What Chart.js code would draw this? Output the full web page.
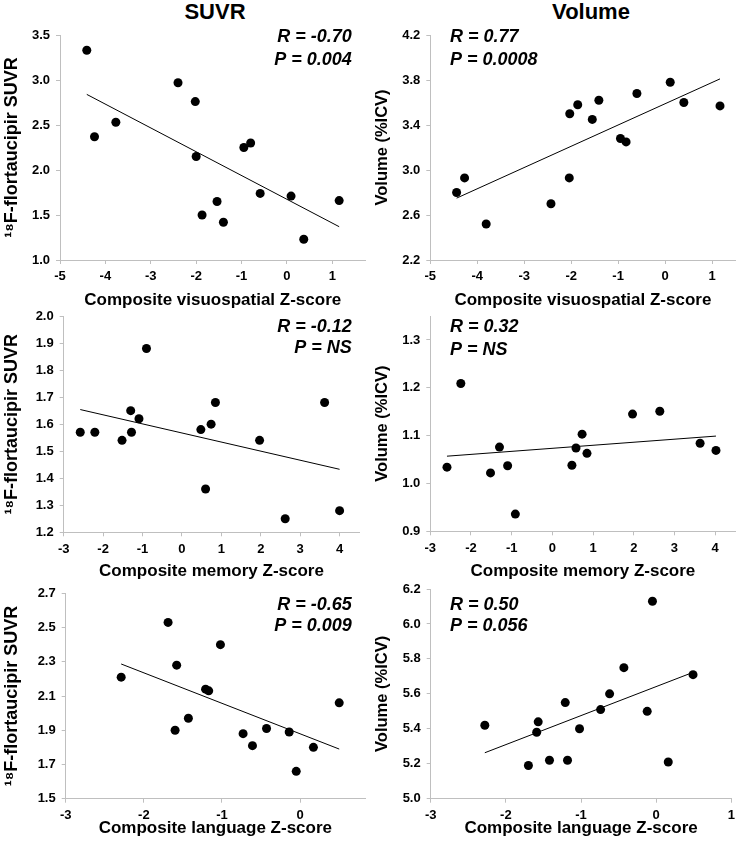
<!DOCTYPE html>
<html>
<head>
<meta charset="utf-8">
<script src="https://cdn.jsdelivr.net/npm/chart.js@4.4.1/dist/chart.umd.min.js"></script>
<style>
  body { margin: 0; background: #fff; }
  #fig { position: relative; width: 740px; height: 849px; font-family: 'Liberation Sans', Arial, sans-serif; }
  #fig canvas { position: absolute; }
  .colTitle { position: absolute; top: 0; font-weight: bold; font-size: 22px; line-height: 24px; transform: translateX(-50%); }
</style>
</head>
<body>
<div id="fig">
  <div class="colTitle" style="left:215px">SUVR</div>
  <div class="colTitle" style="left:591px">Volume</div>
</div>
<script>
// --- visuospatial row ---
const visuoSuvrX = [-4.41, -4.24, -3.77, -2.40, -2.02, -2.00, -1.87, -1.54, -1.40, -0.95, -0.80, -0.59, 0.09, 0.37, 1.15];
const visuoSuvrY = [3.33, 2.37, 2.53, 2.97, 2.76, 2.15, 1.50, 1.65, 1.42, 2.25, 2.30, 1.74, 1.71, 1.23, 1.66];
const visuoSuvrFitX = [-4.41, 1.15];
const visuoSuvrFitY = [2.84, 1.37];

const visuoVolX = [-4.44, -4.27, -3.81, -2.43, -2.04, -2.03, -1.86, -1.55, -1.41, -0.95, -0.83, -0.60, 0.11, 0.40, 1.17];
const visuoVolY = [2.80, 2.93, 2.52, 2.70, 2.93, 3.50, 3.58, 3.45, 3.62, 3.28, 3.25, 3.68, 3.78, 3.60, 3.57];
const visuoVolFitX = [-4.44, 1.17];
const visuoVolFitY = [2.75, 3.81];

// --- memory row ---
const memSuvrX = [-2.58, -2.21, -1.52, -1.30, -1.28, -1.09, -0.90, 0.48, 0.60, 0.74, 0.85, 1.97, 2.62, 3.62, 4.00];
const memSuvrY = [1.57, 1.57, 1.54, 1.65, 1.57, 1.62, 1.88, 1.58, 1.36, 1.60, 1.68, 1.54, 1.25, 1.68, 1.28];
const memSuvrFitX = [-2.58, 4.00];
const memSuvrFitY = [1.654, 1.433];

const memVolX = [-2.59, -2.25, -1.52, -1.30, -1.10, -0.91, 0.48, 0.58, 0.73, 0.85, 1.97, 2.64, 3.63, 4.02];
const memVolY = [1.034, 1.209, 1.022, 1.076, 1.037, 0.936, 1.038, 1.074, 1.103, 1.063, 1.145, 1.151, 1.084, 1.069];
const memVolFitX = [-2.59, 4.02];
const memVolFitY = [1.057, 1.099];

// --- language row ---
const langSuvrX = [-2.29, -1.69, -1.58, -1.60, -1.43, -1.21, -1.17, -1.02, -0.73, -0.61, -0.43, -0.14, -0.05, 0.17, 0.50];
const langSuvrY = [2.21, 2.53, 2.28, 1.90, 1.97, 2.14, 2.13, 2.40, 1.88, 1.81, 1.91, 1.89, 1.66, 1.80, 2.06];
const langSuvrFitX = [-2.29, 0.50];
const langSuvrFitY = [2.287, 1.79];

const langVolX = [-2.28, -1.70, -1.59, -1.57, -1.42, -1.21, -1.18, -1.02, -0.74, -0.62, -0.43, -0.12, -0.05, 0.16, 0.49];
const langVolY = [5.42, 5.19, 5.38, 5.44, 5.22, 5.55, 5.22, 5.40, 5.51, 5.60, 5.75, 5.50, 6.13, 5.21, 5.71];
const langVolFitX = [-2.28, 0.49];
const langVolFitY = [5.263, 5.723];

// tick labels
const visuoTicks = [-5, -4, -3, -2, -1, 0, 1];
const memTicks = [-3, -2, -1, 0, 1, 2, 3, 4];
const langSuvrTicks = [-3, -2, -1, 0];
const langVolTicks = [-3, -2, -1, 0, 1];
const suvrVisuoTicks = [1.0, 1.5, 2.0, 2.5, 3.0, 3.5];
const volVisuoTicks = [2.2, 2.6, 3.0, 3.4, 3.8, 4.2];
const suvrMemTicks = [1.2, 1.3, 1.4, 1.5, 1.6, 1.7, 1.8, 1.9, 2.0];
const volMemTicks = [0.9, 1.0, 1.1, 1.2, 1.3];
const suvrLangTicks = [1.5, 1.7, 1.9, 2.1, 2.3, 2.5, 2.7];
const volLangTicks = [5.0, 5.2, 5.4, 5.6, 5.8, 6.0, 6.2];

const suvrTitle = "\u00B9\u2078F-flortaucipir SUVR";
const volTitle = "Volume (%ICV)";

const fontFamily = "'Liberation Sans', 'DejaVu Sans', sans-serif";
Chart.defaults.font.family = fontFamily;
Chart.defaults.color = "#000";

const panels = [
  { box: [0, 0, 370, 312], area: [60, 35, 367, 260], xr: [-5, 1.73], yr: [1.0, 3.5],
    xs: visuoSuvrX, ys: visuoSuvrY, fx: visuoSuvrFitX, fy: visuoSuvrFitY, xTicks: visuoTicks, yTicks: suvrVisuoTicks,
    xTitle: "Composite visuospatial Z-score", xTitleY: 300, yTitle: suvrTitle, ySize: 18,
    stats: ["R = -0.70", "P = 0.004"], sx: 351.7, sy: [36.7, 60], align: "right" },
  { box: [370, 0, 370, 312], area: [430.3, 35, 738, 260], xr: [-5, 1.5], yr: [2.2, 4.2],
    xs: visuoVolX, ys: visuoVolY, fx: visuoVolFitX, fy: visuoVolFitY, xTicks: visuoTicks, yTicks: volVisuoTicks,
    xTitle: "Composite visuospatial Z-score", xTitleY: 300, yTitle: volTitle, ySize: 16.5,
    stats: ["R = 0.77", "P = 0.0008"], sx: 450, sy: [37, 60], align: "left" },
  { box: [0, 300, 370, 282], area: [63.7, 316, 359.3, 532.3], xr: [-3, 4.5], yr: [1.2, 2.0],
    xs: memSuvrX, ys: memSuvrY, fx: memSuvrFitX, fy: memSuvrFitY, xTicks: memTicks, yTicks: suvrMemTicks,
    xTitle: "Composite memory Z-score", xTitleY: 571.7, yTitle: suvrTitle, ySize: 18,
    stats: ["R = -0.12", "P = NS"], sx: 351.7, sy: [326.7, 348.3], align: "right" },
  { box: [370, 300, 370, 282], area: [430.3, 316, 736, 531.3], xr: [-3, 4.5], yr: [0.9, 1.35],
    xs: memVolX, ys: memVolY, fx: memVolFitX, fy: memVolFitY, xTicks: memTicks, yTicks: volMemTicks,
    xTitle: "Composite memory Z-score", xTitleY: 571.7, yTitle: volTitle, ySize: 16.5,
    stats: ["R = 0.32", "P = NS"], sx: 450, sy: [326.7, 350], align: "left" },
  { box: [0, 570, 370, 279], area: [65.7, 593.3, 365, 798.7], xr: [-3, 0.83], yr: [1.5, 2.7],
    xs: langSuvrX, ys: langSuvrY, fx: langSuvrFitX, fy: langSuvrFitY, xTicks: langSuvrTicks, yTicks: suvrLangTicks,
    xTitle: "Composite language Z-score", xTitleY: 828.3, yTitle: suvrTitle, ySize: 18,
    stats: ["R = -0.65", "P = 0.009"], sx: 351.7, sy: [605, 626], align: "right" },
  { box: [370, 570, 370, 279], area: [430.7, 589, 736, 798.7], xr: [-3, 1], yr: [5.0, 6.2],
    xs: langVolX, ys: langVolY, fx: langVolFitX, fy: langVolFitY, xTicks: langVolTicks, yTicks: volLangTicks,
    xTitle: "Composite language Z-score", xTitleY: 828.3, yTitle: volTitle, ySize: 16.5,
    stats: ["R = 0.50", "P = 0.056"], sx: 450, sy: [605, 626], align: "left" }
];

function axisOpts(range, ticks, dec, title, size, titlePad, fitKey, fitVal, tickPad) {
  return {
    type: "linear", min: range[0], max: range[1],
    afterBuildTicks: s => { s.ticks = ticks.map(v => ({ value: v })); },
    afterFit: s => { s[fitKey] = fitVal; },
    ticks: { callback: v => Number(v).toFixed(dec), font: { family: fontFamily, size: 13, weight: 700 }, color: "#000",
             padding: tickPad, autoSkip: false, maxRotation: 0 },
    grid: { drawOnChartArea: false, drawTicks: true, tickLength: 4, color: "#bfbfbf" },
    border: { color: "#bfbfbf", width: 1 },
    title: { display: true, text: title, font: { family: fontFamily, size: size, weight: 700 }, color: "#000",
             padding: { top: titlePad, bottom: titlePad } }
  };
}

function makeChart(p) {
  let [bl, bt, bw, bh] = p.box;
  let [al, at, ar, ab] = p.area;
  let cv = document.createElement("canvas");
  cv.width = bw; cv.height = bh;
  cv.style.left = bl + "px"; cv.style.top = bt + "px";
  cv.style.width = bw + "px"; cv.style.height = bh + "px";
  document.getElementById("fig").appendChild(cv);

  let xPad = (bt + bh - p.xTitleY) - 17 * 1.2 / 2;
  let yPad = 12.3 - p.ySize * 1.2 / 2;

  new Chart(cv, {
    type: "scatter",
    data: {
      datasets: [
        { data: p.xs.map((x, i) => ({ x: x, y: p.ys[i] })), backgroundColor: "#000", borderWidth: 0, pointRadius: 4.5 },
        { data: p.fx.map((x, i) => ({ x: x, y: p.fy[i] })), showLine: true, borderColor: "#000",
          borderWidth: 1, pointRadius: 0, fill: false }
      ]
    },
    options: {
      responsive: false, animation: false, events: [],
      layout: { padding: { left: 0, top: at - bt, right: bl + bw - ar, bottom: 0 } },
      plugins: { legend: { display: false }, tooltip: { enabled: false } },
      scales: {
        x: axisOpts(p.xr, p.xTicks, 0, p.xTitle, 17, xPad, "height", bt + bh - ab, 5),
        y: axisOpts(p.yr, p.yTicks, 1, p.yTitle, p.ySize, yPad, "width", al - bl, 6)
      }
    },
    plugins: [{
      id: "stats",
      afterDraw(chart) {
        let ctx = chart.ctx;
        ctx.save();
        ctx.font = "italic bold 18px " + fontFamily;
        ctx.fillStyle = "#000";
        ctx.textAlign = p.align;
        ctx.textBaseline = "middle";
        p.stats.forEach((t, i) => ctx.fillText(t, p.sx - bl, p.sy[i] - bt));
        ctx.restore();
      }
    }]
  });
}

panels.forEach(makeChart);
</script>
</body>
</html>
